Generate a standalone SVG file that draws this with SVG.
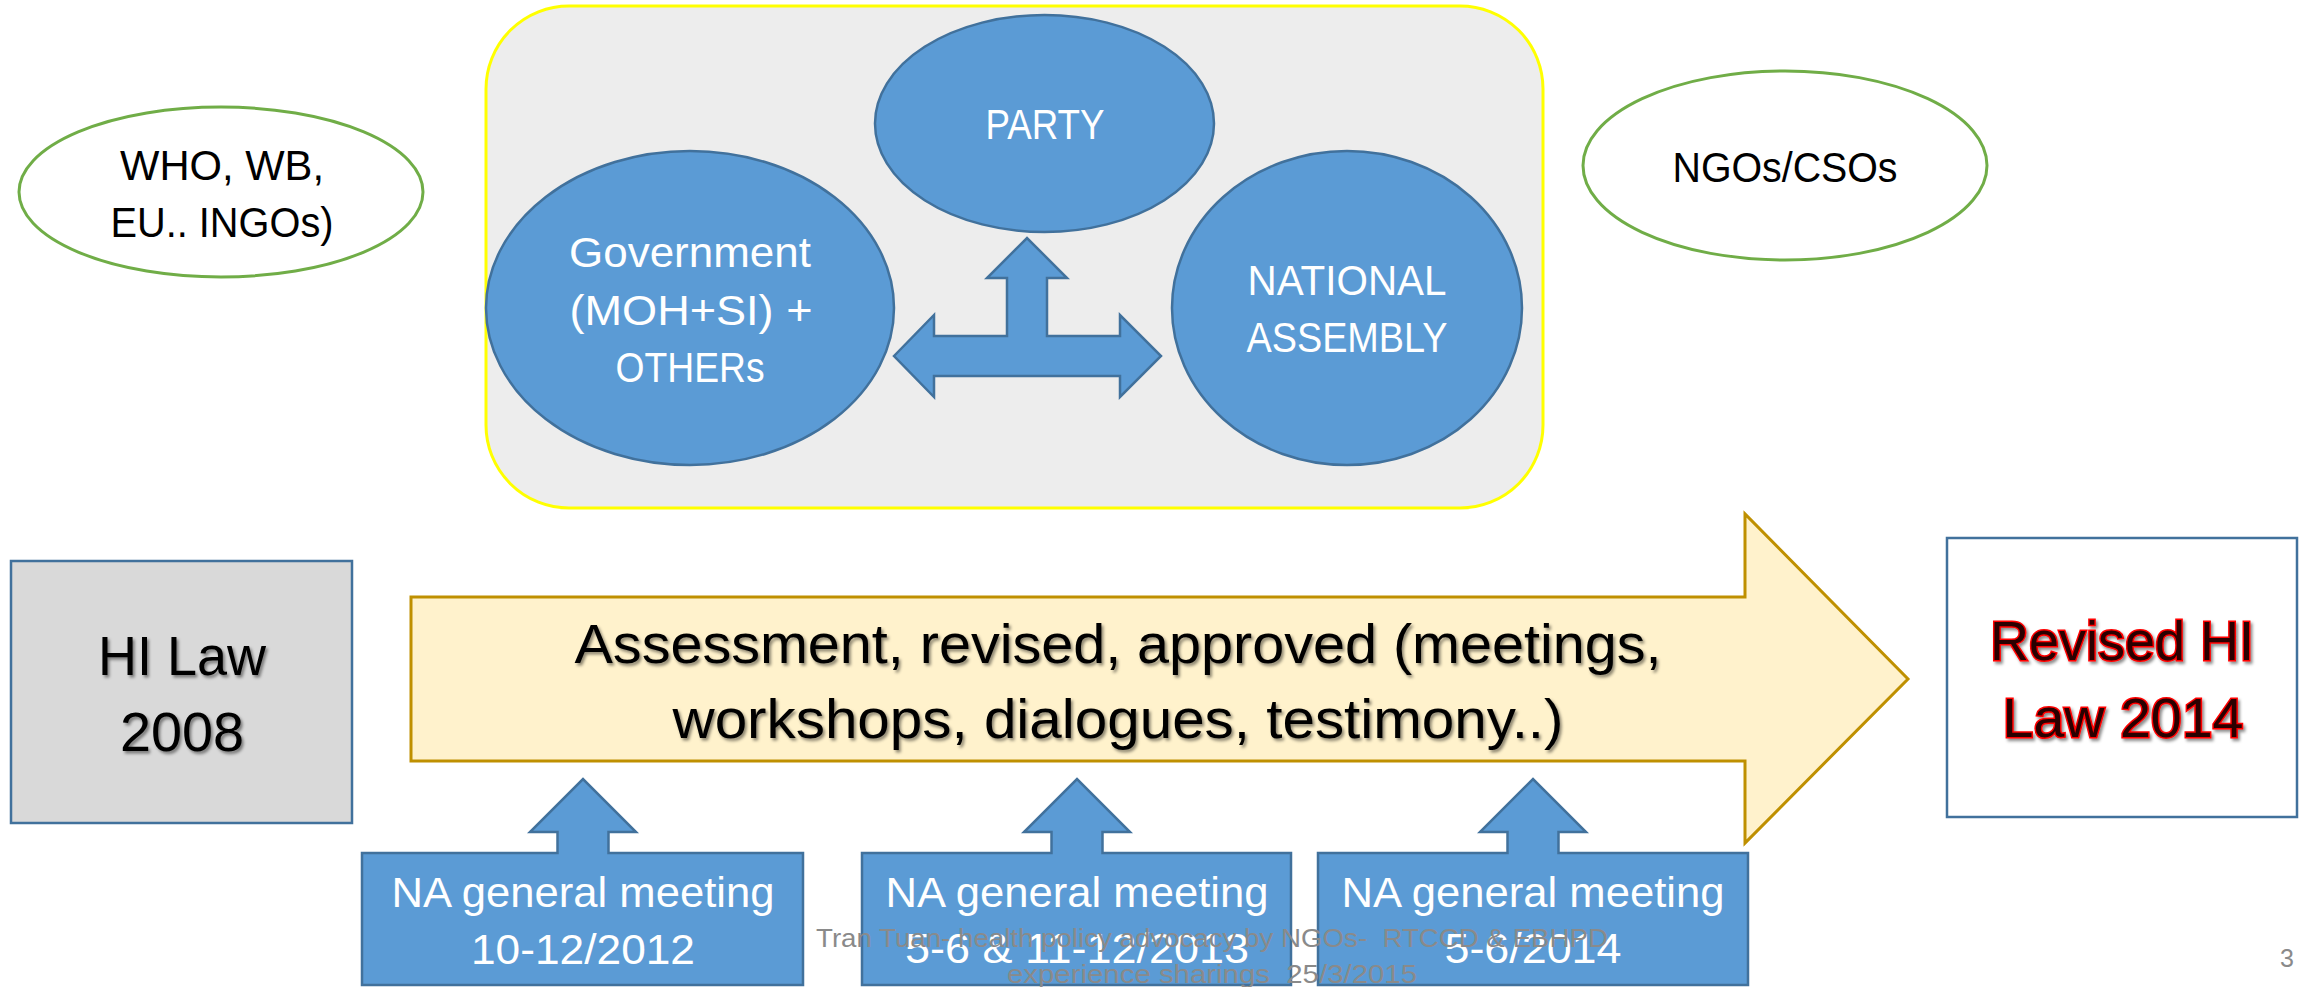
<svg xmlns="http://www.w3.org/2000/svg" width="2300" height="987" viewBox="0 0 2300 987">
<defs>
  <filter id="shadow" x="-10%" y="-20%" width="120%" height="140%">
    <feDropShadow dx="2" dy="2.5" stdDeviation="1.5" flood-color="#000" flood-opacity="0.45"/>
  </filter>
</defs>
<style>
  text { font-family: "Liberation Sans", Arial, sans-serif; }
  .blue { fill: #5b9bd5; stroke: #41719c; stroke-width: 2.5; }
  .green { fill: #ffffff; stroke: #70ad47; stroke-width: 3; }
  .mid { font-size: 42px; text-anchor: middle; }
  .big { font-size: 56px; text-anchor: middle; fill: #000; filter: url(#shadow); }
  .red { fill: #2a0000; stroke: #ff0000; stroke-width: 3; paint-order: stroke; }
  .white { fill: #ffffff; }
  .black { fill: #000000; }
  .foot { font-size: 25px; fill: #8a8a8a; text-anchor: middle; }
</style>
<rect width="2300" height="987" fill="#ffffff"/>

<g id="stakeholder-box">
  <rect x="486" y="6" width="1057" height="502" rx="83" ry="83" fill="#ededed" stroke="#ffff00" stroke-width="3"/>
</g>

<g id="who-wb">
  <ellipse class="green" cx="221" cy="192" rx="202" ry="85"/>
  <text class="mid black" x="222" y="180" textLength="204" lengthAdjust="spacingAndGlyphs">WHO, WB,</text>
  <text class="mid black" x="222" y="237" textLength="223" lengthAdjust="spacingAndGlyphs">EU.. INGOs)</text>
</g>

<g id="ngos-csos">
  <ellipse class="green" cx="1785" cy="165.5" rx="202" ry="94.5"/>
  <text class="mid black" x="1785" y="182" textLength="225" lengthAdjust="spacingAndGlyphs">NGOs/CSOs</text>
</g>

<g id="party">
  <ellipse class="blue" cx="1044.5" cy="123.5" rx="169.5" ry="108.5"/>
  <text class="mid white" x="1045" y="139" textLength="119" lengthAdjust="spacingAndGlyphs">PARTY</text>
</g>

<g id="government">
  <ellipse class="blue" cx="690" cy="308" rx="204" ry="157"/>
  <text class="mid white" x="690" y="267" textLength="242" lengthAdjust="spacingAndGlyphs">Government</text>
  <text class="mid white" x="691" y="325" textLength="243" lengthAdjust="spacingAndGlyphs">(MOH+SI) +</text>
  <text class="mid white" x="690" y="382" textLength="149" lengthAdjust="spacingAndGlyphs">OTHERs</text>
</g>

<g id="national-assembly">
  <ellipse class="blue" cx="1347" cy="308" rx="175" ry="157"/>
  <text class="mid white" x="1347" y="295" textLength="199" lengthAdjust="spacingAndGlyphs">NATIONAL</text>
  <text class="mid white" x="1347" y="352" textLength="201" lengthAdjust="spacingAndGlyphs">ASSEMBLY</text>
</g>

<g id="connectors">
  <path class="blue" d="M894,356 L934,315 L934,336 L1007,336 L1007,278 L987,278 L1027,238 L1067,278 L1047,278 L1047,336 L1120,336 L1120,315 L1161,356 L1120,397 L1120,376 L934,376 L934,397 Z"/>
</g>

<g id="hi-law-2008">
  <rect x="11" y="561" width="341" height="262" fill="#d9d9d9" stroke="#41719c" stroke-width="2.5"/>
  <text class="big" x="182" y="675" textLength="168" lengthAdjust="spacingAndGlyphs">HI Law</text>
  <text class="big" x="182" y="751" textLength="124" lengthAdjust="spacingAndGlyphs">2008</text>
</g>

<g id="process-arrow">
  <path d="M411,597 L1745,597 L1745,514 L1908,679 L1745,843 L1745,761 L411,761 Z" fill="#fff2cc" stroke="#bf9000" stroke-width="3"/>
  <text class="big" x="1118" y="663" textLength="1087" lengthAdjust="spacingAndGlyphs">Assessment, revised, approved (meetings,</text>
  <text class="big" x="1118" y="738" textLength="891" lengthAdjust="spacingAndGlyphs">workshops, dialogues, testimony..)</text>
</g>

<g id="revised-hi-law-2014">
  <rect x="1947" y="538" width="350" height="279" fill="#ffffff" stroke="#41719c" stroke-width="2.5"/>
  <text class="big red" x="2122" y="660" textLength="264" lengthAdjust="spacingAndGlyphs">Revised HI</text>
  <text class="big red" x="2123" y="737" textLength="241" lengthAdjust="spacingAndGlyphs">Law 2014</text>
</g>

<g id="na-meeting-2012">
  <path class="blue" d="M362,853 L557.5,853 L557.5,832 L530,832 L583,779 L636,832 L608.5,832 L608.5,853 L803,853 L803,985 L362,985 Z"/>
  <text class="mid white" x="583" y="907" textLength="383" lengthAdjust="spacingAndGlyphs">NA general meeting</text>
  <text class="mid white" x="583" y="964" textLength="224" lengthAdjust="spacingAndGlyphs">10-12/2012</text>
</g>

<g id="na-meeting-2013">
  <path class="blue" d="M862,853 L1051.5,853 L1051.5,832 L1024,832 L1077,779 L1130,832 L1102.5,832 L1102.5,853 L1291,853 L1291,985 L862,985 Z"/>
  <text class="mid white" x="1077" y="907" textLength="383" lengthAdjust="spacingAndGlyphs">NA general meeting</text>
  <text class="mid white" x="1077" y="963" textLength="344" lengthAdjust="spacingAndGlyphs">5-6 &amp; 11-12/2013</text>
</g>

<g id="na-meeting-2014">
  <path class="blue" d="M1318,853 L1507.5,853 L1507.5,832 L1480,832 L1533,779 L1586,832 L1558.5,832 L1558.5,853 L1748,853 L1748,985 L1318,985 Z"/>
  <text class="mid white" x="1533" y="907" textLength="383" lengthAdjust="spacingAndGlyphs">NA general meeting</text>
  <text class="mid white" x="1533" y="963" textLength="177" lengthAdjust="spacingAndGlyphs">5-6/2014</text>
</g>

<g id="footer">
  <text class="foot" x="1212" y="947" textLength="792" lengthAdjust="spacingAndGlyphs" xml:space="preserve">Tran Tuan- health policy advocacy by NGOs-  RTCCD &amp; EBHPD</text>
  <text class="foot" x="1212" y="983" textLength="410" lengthAdjust="spacingAndGlyphs" xml:space="preserve">experience sharings  25/3/2015</text>
  <text class="foot" x="2287" y="967">3</text>
</g>
</svg>
